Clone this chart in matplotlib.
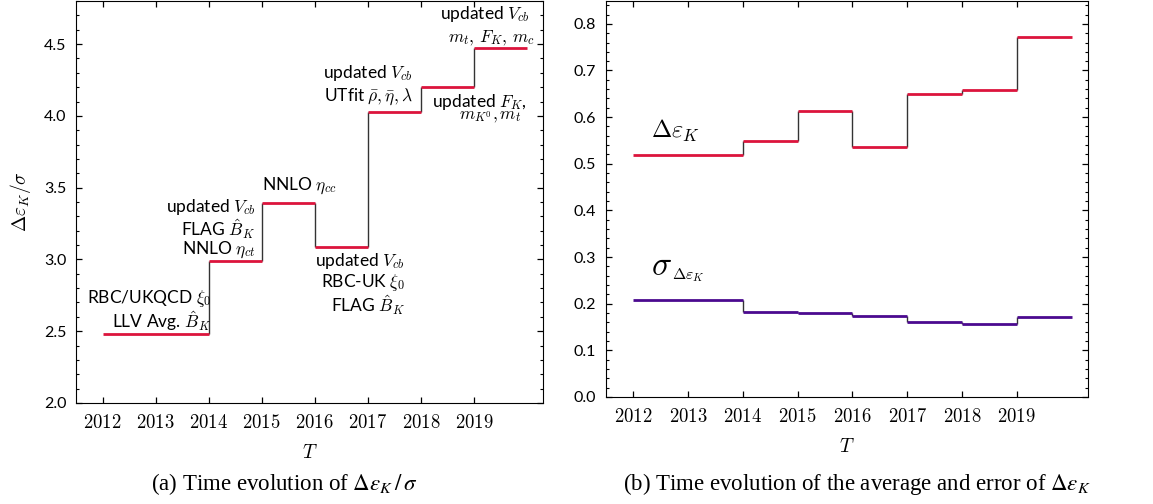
import matplotlib.pyplot as plt
from matplotlib.ticker import MultipleLocator

plt.rcParams['font.family'] = ['Lato', 'DejaVu Sans']
plt.rcParams['mathtext.fontset'] = 'cm'

# step starts (each value holds until the next year, last one until 2020)
years = [2012, 2014, 2015, 2016, 2017, 2018, 2019]
year_end = 2020
tick_years = list(range(2012, 2020))

ratio = [2.48, 2.99, 3.39, 3.09, 4.03, 4.20, 4.47]          # delta eps_K / sigma
delta_eps = [0.519, 0.548, 0.614, 0.536, 0.649, 0.658, 0.772]
sigma_eps = [0.209, 0.183, 0.181, 0.173, 0.160, 0.156, 0.172]

RED = '#dc143c'
PURPLE = '#4b0a8f'


def draw_steps(ax, vals, color):
    ends = years[1:] + [year_end]
    ax.vlines(years[1:], vals[:-1], vals[1:], color='#333333', lw=1.0, zorder=2)
    ax.hlines(vals, years, ends, color=color, lw=2.0, zorder=3)


def style(ax, ylim, major, minor):
    ax.set_xlim(2011.5, 2020.3)
    ax.set_ylim(*ylim)
    ax.set_xticks(tick_years)
    ax.set_xticklabels([f'${y}$' for y in tick_years], fontsize=13.5)
    ax.yaxis.set_major_locator(MultipleLocator(major))
    ax.yaxis.set_minor_locator(MultipleLocator(minor))
    ax.yaxis.set_major_formatter(lambda v, p: f'{v:.1f}')
    ax.tick_params(which='both', direction='in', top=True, right=True)
    ax.tick_params(which='major', length=4, width=0.9)
    ax.tick_params(which='minor', length=2.5, width=0.8)
    ax.tick_params(axis='x', pad=7)
    ax.tick_params(axis='y', labelsize=11.5, pad=7)
    ax.set_xlabel('$T$', fontsize=14, labelpad=9)


fig = plt.figure(figsize=(11.53, 5.04), dpi=100)
ax1 = fig.add_axes([76 / 1153, 101 / 504, 467 / 1153, 402 / 504])
ax2 = fig.add_axes([606 / 1153, 107 / 504, 482 / 1153, 396 / 504])

# (a)
draw_steps(ax1, ratio, RED)
style(ax1, (2.0, 4.8), 0.5, 0.1)
ax1.set_ylabel(r'$\Delta\varepsilon_K/\sigma$', fontsize=14, labelpad=8)

fs = 12.5
ax1.text(2014.05, 2.73, r'RBC/UKQCD $\xi_0$', ha='right', va='center', fontsize=fs)
ax1.text(2014.05, 2.57, r'LLV Avg. $\hat{B}_K$', ha='right', va='center', fontsize=fs)
ax1.text(2014.88, 3.365, r'updated $V_{cb}$', ha='right', va='center', fontsize=fs)
ax1.text(2014.88, 3.215, r'FLAG $\hat{B}_K$', ha='right', va='center', fontsize=fs)
ax1.text(2014.88, 3.07, r'NNLO $\eta_{ct}$', ha='right', va='center', fontsize=fs)
ax1.text(2015.0, 3.51, r'NNLO $\eta_{cc}$', ha='left', va='center', fontsize=fs)
ax1.text(2017.7, 2.99, r'updated $V_{cb}$', ha='right', va='center', fontsize=fs)
ax1.text(2017.7, 2.84, r'RBC-UK $\xi_0$', ha='right', va='center', fontsize=fs)
ax1.text(2017.7, 2.68, r'FLAG $\hat{B}_K$', ha='right', va='center', fontsize=fs)
ax1.text(2017.85, 4.30, r'updated $V_{cb}$', ha='right', va='center', fontsize=fs)
ax1.text(2017.85, 4.13, r'UTfit $\bar{\rho},\bar{\eta},\lambda$', ha='right', va='center', fontsize=fs)
ax1.text(2020.0, 4.10, r'updated $F_K$,', ha='right', va='center', fontsize=fs)
ax1.text(2019.9, 3.99, r'$m_{K^0},m_t$', ha='right', va='center', fontsize=fs)
ax1.text(2020.05, 4.71, r'updated $V_{cb}$', ha='right', va='center', fontsize=fs)
ax1.text(2020.15, 4.54, r'$m_t,\,F_K,\,m_c$', ha='right', va='center', fontsize=fs)

# (b)
draw_steps(ax2, delta_eps, RED)
draw_steps(ax2, sigma_eps, PURPLE)
style(ax2, (0.0, 0.849), 0.1, 0.02)
ax2.text(2012.33, 0.571, r'$\Delta\varepsilon_K$', ha='left', va='center', fontsize=17.5)
ax2.text(2012.33, 0.281, r'$\sigma$', ha='left', va='center', fontsize=24)
ax2.text(2012.70, 0.262, r'$\Delta\varepsilon_K$', ha='left', va='center', fontsize=11.5)

cap = dict(ha='center', va='center', fontsize=16.5, family='Liberation Serif',
           math_fontfamily='stix')
fig.text(284 / 1153, 1 - 484 / 504, r'(a) Time evolution of $\Delta\varepsilon_K\,/\,\sigma$', **cap)
fig.text(857 / 1153, 1 - 484 / 504,
         r'(b) Time evolution of the average and error of $\Delta\varepsilon_K$', **cap)

fig.savefig('out.png', dpi=100)
